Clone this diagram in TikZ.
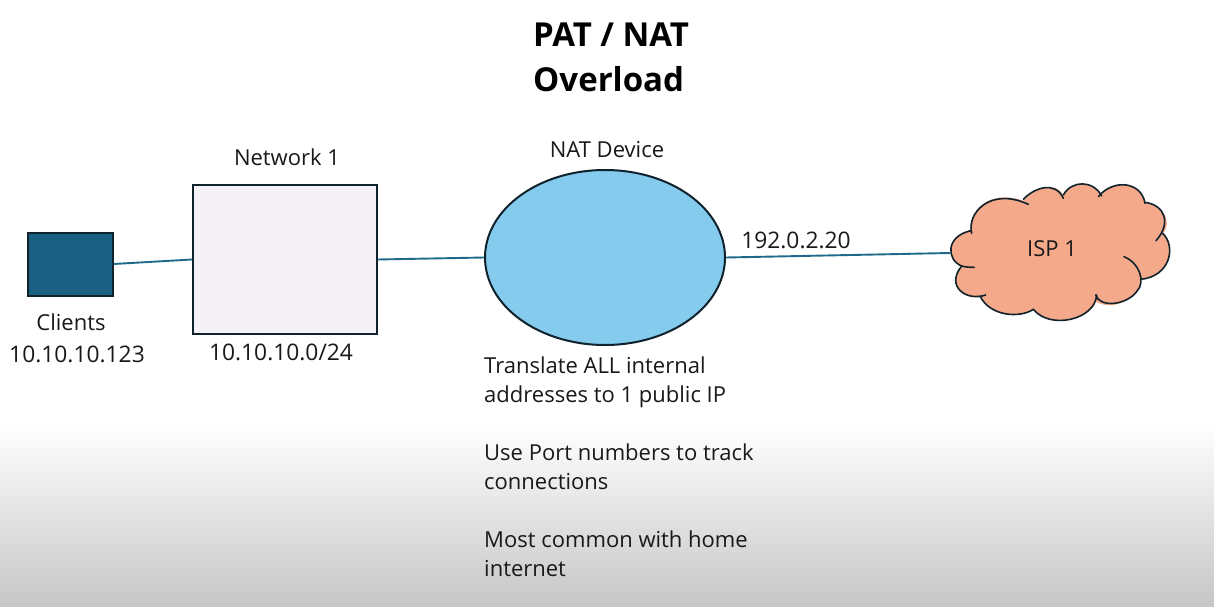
\documentclass[tikz,border=0pt]{standalone}
\usepackage{fontspec}
\usetikzlibrary{shapes.geometric}
\setmainfont{Open Sans}
\definecolor{linkc}{HTML}{1F6A8A}
\definecolor{edgec}{HTML}{10222C}
\definecolor{clientc}{HTML}{1A6082}
\definecolor{netc}{HTML}{F5F2F7}
\definecolor{natc}{HTML}{85CBEE}
\definecolor{cloudc}{HTML}{F4A98A}
\definecolor{fadec}{HTML}{C6C6C6}
\tikzset{
  x=1pt,y=-1pt,
  lbl/.style={inner sep=0pt,text=black!90,font=\fontsize{22}{29}\selectfont},
  numlbl/.style={inner sep=0pt,text=black!90,font=\fontsize{22.8}{29}\selectfont},
  ttl/.style={inner sep=0pt,text=black,align=left,font=\fontsize{33}{44.5}\selectfont\bfseries},
  boxc/.style={draw=edgec,line width=2pt,inner sep=0pt},
  link/.style={draw=linkc,line width=1.9pt},
  cloudline/.style={draw=edgec,line width=1.6pt,line cap=round,line join=round}
}
\begin{document}
\begin{tikzpicture}
\useasboundingbox (0,0) rectangle (1214,607);
\fill[white] (0,0) rectangle (1214,425);
\shade[top color=white,bottom color=fadec] (0,425) rectangle (1214,607);
\node[ttl,anchor=north west] (title) at (533,23) {PAT / NAT\\Overload};
% cloud
\begin{scope}[shift={(930,170)},x=0.3333pt,y=-0.3333pt]
\fill[cloudc] (95,288) .. controls (50,270) and (45,200) .. (122,182)
 .. controls (115,130) and (170,55) .. (280,92)
 .. controls (310,55) and (375,30) .. (400,75)
 .. controls (425,30) and (490,30) .. (512,72)
 .. controls (550,25) and (635,35) .. (645,98)
 .. controls (705,105) and (725,160) .. (700,190)
 .. controls (740,230) and (720,320) .. (632,328)
 .. controls (640,370) and (560,430) .. (497,395)
 .. controls (480,450) and (360,480) .. (310,418)
 .. controls (270,445) and (180,440) .. (150,378)
 .. controls (110,395) and (45,350) .. (95,288) -- cycle;
\draw[cloudline] (133,292) .. controls (120,292) and (105,291) .. (95,288)
 .. controls (50,270) and (45,200) .. (122,182);
\draw[cloudline] (125,190) .. controls (110,130) and (180,50) .. (295,103);
\draw[cloudline] (280,88) .. controls (310,55) and (375,30) .. (400,85);
\draw[cloudline] (400,75) .. controls (425,30) and (490,30) .. (515,78);
\draw[cloudline] (505,80) .. controls (550,25) and (635,35) .. (645,100);
\draw[cloudline] (645,97) .. controls (705,105) and (725,160) .. (678,212);
\draw[cloudline] (698,190) .. controls (740,230) and (720,320) .. (632,328);
\draw[cloudline] (582,260) .. controls (625,275) and (650,335) .. (620,365)
 .. controls (590,405) and (510,415) .. (497,375);
\draw[cloudline] (500,375) .. controls (495,450) and (360,480) .. (310,418);
\draw[cloudline] (310,418) .. controls (270,445) and (180,440) .. (150,378);
\draw[cloudline] (167,375) .. controls (110,395) and (45,350) .. (95,288);
\end{scope}
% nodes
\node[boxc,fill=clientc,minimum width=85pt,minimum height=63pt] (clients) at (70,264) {};
\node[boxc,fill=netc,minimum width=184pt,minimum height=149pt] (net) at (285,259.5) {};
\node[boxc,ellipse,fill=natc,minimum width=240pt,minimum height=175pt] (nat) at (605,257.5) {};
\node[lbl,minimum width=1pt,minimum height=1pt] (isp) at (1052,249) {ISP 1};
\coordinate (ispw) at (950,253);
% links
\path[link] (clients.east) -- (net.west);
\path[link] (net.east) -- (nat.west);
\path[link] (nat.east) -- (ispw);
% labels
\node[lbl] (netname) at (287,157) {Network 1};
\node[lbl] (natname) at (607,150) {NAT Device};
\node[numlbl] (pubip) at (796,240) {192.0.2.20};
\node[lbl] (cl1) at (71,322) {Clients};
\node[numlbl] (cl2) at (77,354) {10.10.10.123};
\node[numlbl] (netaddr) at (281,352) {10.10.10.0/24};
\node[lbl,align=left,anchor=north west] (notes) at (484,357) {Translate ALL internal\\addresses to 1 public IP\\[29pt]Use Port numbers to track\\connections\\[29pt]Most common with home\\internet};
\end{tikzpicture}
\end{document}
